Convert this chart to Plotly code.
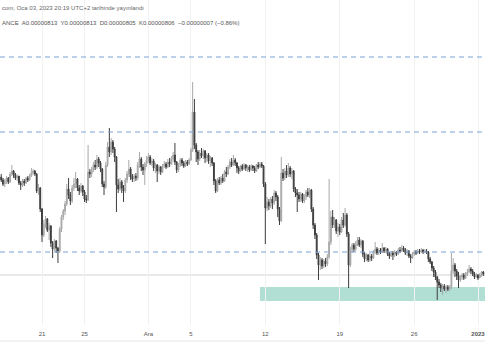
import pandas as pd
import plotly.graph_objects as go

# 4h candles, prices in units of 1e-8
first_open = 898
close = [900,897,893,896,899,895,903,906,902,899, 901,894,892,896,894,899,897,901,904,906,
         903,886,889,868,842,853,858,847,851,834, 828,836,829,826,848,860,866,873,888,882,
         876,889,893,898,889,886,891,885,878,877, 905,903,907,912,910,918,914,908,893,890,
         912,930,925,935,928,920,892,888,895,889, 886,897,903,908,900,898,901,899,912,918,
         910,907,913,917,920,914,916,909,912,906, 910,905,911,913,910,915,913,918,922,915,
         907,912,917,914,911,915,913,917,927,965, 932,925,918,924,921,926,919,922,916,919,
         914,896,886,897,894,899,896,905,903,910, 915,912,917,914,909,906,911,908,912,909,
         910,907,911,909,906,912,910,913,911,893, 869,875,871,878,874,884,880,868,856,904,
         899,906,902,909,903,906,888,884,882,878, 883,876,880,885,882,887,868,852,842,822,
         812,817,811,816,813,820,835,860,852,857, 846,850,845,857,852,862,843,812,827,832,
         828,833,837,832,836,823,818,822,817,821, 819,825,828,824,827,825,829,826,828,823,
         821,824,822,825,823,827,826,829,827,824, 826,821,819,823,825,824,826,825,827,825,
         826,825,818,815,809,805,800,795,792,789, 791,788,790,788,790,806,812,806,801,797,
         800,802,799,803,805,808,806,803,800,802, 799,802,805,803]
high = [904,903,899,898,901,900,905,912,907,904, 903,901,896,898,898,900,901,903,909,908,
        907,904,893,890,869,857,861,859,854,852, 836,838,837,830,850,862,868,876,893,899,
        885,892,899,905,899,892,894,892,887,882, 932,908,910,915,917,922,920,916,909,896,
        915,935,949,939,937,930,921,898,899,897, 892,899,906,917,910,903,903,904,915,925,
        920,913,915,921,924,922,919,918,914,913, 912,911,913,916,915,918,919,921,925,934,
        916,914,919,919,916,917,917,919,929,995, 978,934,927,927,929,928,927,924,924,921,
        920,915,898,899,900,901,903,907,910,912, 918,919,922,919,915,911,912,913,914,913,
        912,912,913,912,911,913,915,915,915,912, 895,880,878,880,881,887,886,882,870,920,
        908,909,912,914,911,909,907,890,888,885, 885,884,883,887,889,889,888,870,854,844,
        824,820,819,818,819,823,898,866,867,860, 858,854,853,860,864,869,864,845,830,834,
        834,836,840,840,838,837,825,824,823,824, 823,827,835,830,829,829,834,830,830,829,
        825,826,826,827,826,829,830,832,831,829, 828,827,823,825,827,827,828,828,829,828,
        828,828,826,820,816,811,807,801,798,794, 793,793,792,792,792,824,819,814,808,805,
        802,804,804,805,808,812,810,808,805,804, 803,804,806,806]
low = [896,895,891,890,893,893,894,901,899,897, 896,892,887,890,891,893,895,896,900,902,
       901,884,882,865,835,840,849,845,837,830, 819,826,824,814,824,845,857,862,871,878,
       872,874,886,889,886,882,884,881,875,874, 876,899,900,905,907,908,910,905,890,882,
       888,910,920,922,924,915,865,884,886,884, 875,884,894,900,897,895,895,896,897,909,
       906,902,892,910,914,912,911,906,904,895, 903,902,904,909,908,909,910,912,915,912,
       904,905,910,911,909,910,911,912,916,925, 928,915,912,916,919,918,914,915,913,910,
       911,892,884,885,892,892,894,895,900,902, 908,910,911,911,904,903,905,906,907,906,
       905,905,906,906,904,905,908,909,909,890, 833,866,867,869,868,872,876,860,852,855,
       896,897,899,900,900,898,885,880,865,875, 875,874,874,877,880,879,865,848,838,818,
       797,807,808,809,810,811,818,832,849,849, 843,840,842,844,849,850,840,789,810,824,
       825,826,831,830,829,820,815,816,815,815, 816,818,823,822,822,823,824,824,824,821,
       818,820,817,820,821,822,824,825,825,822, 821,819,814,818,821,822,823,823,824,823,
       824,823,815,813,806,800,797,777,789,785, 782,786,784,786,786,788,803,800,797,789,
       795,797,797,798,801,804,803,801,798,799, 797,799,800,801]

start_time = "2022-11-17 00:00"
x_range = ["2022-11-17 01:13", "2023-01-01 15:48"]
tick_dates = ["2022-11-21", "2022-11-25", "2022-12-01", "2022-12-05",
              "2022-12-12", "2022-12-19", "2022-12-26", "2023-01-01"]
tick_labels = ["21", "25", "Ara", "5", "12", "19", "26", "<b>2023</b>"]
dashed_levels = [1020, 945, 825]
price_line = 802
zone_start = "2022-12-11 12:00"
zone_low, zone_high = 776, 790
header1 = "com, Oca 03, 2023 20:19 UTC+2 tarihinde yayınlandı"
header2 = ("ANCE  A0.00000813  Y0.00000813  D0.00000805  "
           "K0.00000806  −0.00000007 (−0.86%)")

n = len(close)
times = pd.date_range(start_time, periods=n, freq="4h")
opens = [first_open] + close[:-1]
highs = [max(h, o, c) for h, o, c in zip(high, opens, close)]
lows = [min(l, o, c) for l, o, c in zip(low, opens, close)]

fig = go.Figure(go.Candlestick(
    x=times, open=opens, high=highs, low=lows, close=close,
    increasing=dict(line=dict(color="#a8a8a8", width=1), fillcolor="#a8a8a8"),
    decreasing=dict(line=dict(color="#3d3d3d", width=1), fillcolor="#3d3d3d"),
    whiskerwidth=0, showlegend=False, hoverinfo="skip",
))

shapes = []
shapes.append(dict(type="rect", xref="x", yref="y", x0=zone_start, x1=x_range[1],
                   y0=zone_low, y1=zone_high, fillcolor="#b2dfd4",
                   line=dict(width=0), layer="below"))
shapes.append(dict(type="line", xref="paper", yref="y", x0=0, x1=1,
                   y0=price_line, y1=price_line,
                   line=dict(color="#d4d4d4", width=1), layer="below"))
for lv in dashed_levels:
    shapes.append(dict(type="line", xref="paper", yref="y", x0=0, x1=1, y0=lv, y1=lv,
                       line=dict(color="#7ba3d8", width=1, dash="5px,4px")))
shapes.append(dict(type="line", xref="paper", yref="paper", x0=0, x1=1,
                   y0=-16/325, y1=-16/325, line=dict(color="#e6e6e6", width=1)))

fig.update_layout(
    width=485, height=360,
    margin=dict(l=0, r=0, t=0, b=35),
    paper_bgcolor="white", plot_bgcolor="white",
    font=dict(family="Liberation Sans", size=6, color="#555555"),
    shapes=shapes,
    annotations=[
        dict(text=header1, xref="paper", yref="paper", x=0, y=1 - 8/325,
             xanchor="left", yanchor="middle", showarrow=False,
             font=dict(size=6, color="#666666")),
        dict(text=header2, xref="paper", yref="paper", x=0, y=1 - 23/325,
             xanchor="left", yanchor="middle", showarrow=False,
             font=dict(size=6, color="#555555")),
    ],
    xaxis=dict(type="date", range=x_range, rangeslider=dict(visible=False),
               tickvals=tick_dates, ticktext=tick_labels, tickangle=0,
               showgrid=True, gridcolor="#f1f1f1", gridwidth=1,
               showline=False, zeroline=False, ticks="",
               ticklabelstandoff=4, ticklabeloverflow="allow",
               tickfont=dict(size=6, color="#555555")),
    yaxis=dict(range=[752, 1077], visible=False, showgrid=False, zeroline=False),
)

fig.write_html("out.html",
               config={"displayModeBar": False, "staticPlot": True},
               post_script="document.body.style.margin='0px';"
                           "document.body.style.overflow='hidden';")
